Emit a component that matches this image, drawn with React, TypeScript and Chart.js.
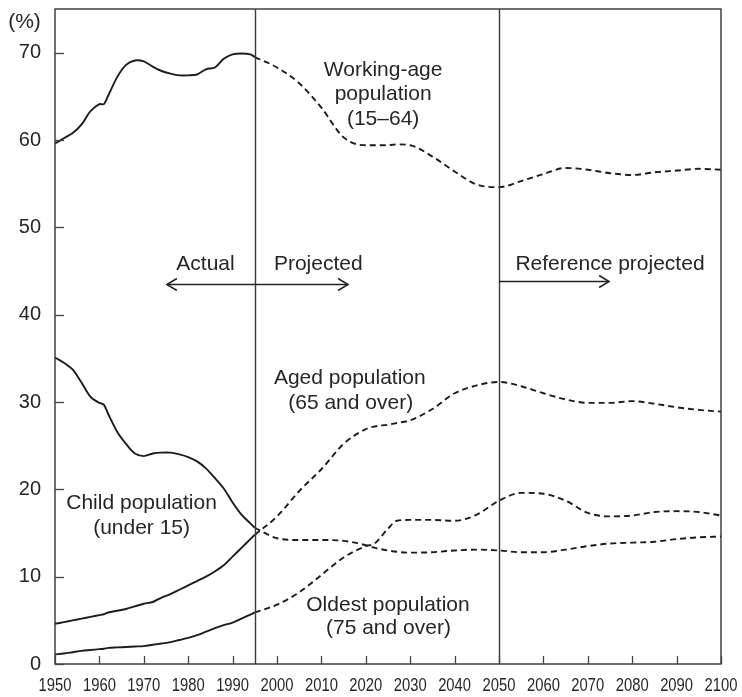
import { useEffect, useRef } from "react";
import { Chart, registerables } from "chart.js";

Chart.register(...registerables);

// ---------- data ----------
const actualYears = [1950, 1952, 1954, 1956, 1958, 1960, 1961, 1962, 1964, 1966, 1968, 1970, 1972, 1974, 1976, 1978, 1980, 1982, 1984, 1986, 1988, 1990, 1992, 1994, 1995];
const workingActual = [59.6, 60.2, 60.8, 61.8, 63.3, 64.1, 64.1, 65.1, 67.2, 68.6, 69.1, 69.0, 68.4, 67.9, 67.6, 67.4, 67.4, 67.5, 68.1, 68.3, 69.3, 69.8, 69.9, 69.8, 69.5];
const childActual = [35.1, 34.5, 33.7, 32.2, 30.6, 29.9, 29.7, 28.6, 26.6, 25.2, 24.1, 23.8, 24.1, 24.2, 24.2, 24.0, 23.7, 23.2, 22.4, 21.3, 20.1, 18.5, 17.1, 16.1, 15.6];
const agedActual = [4.6, 4.8, 5.0, 5.2, 5.4, 5.6, 5.7, 5.9, 6.1, 6.3, 6.6, 6.9, 7.1, 7.6, 8.0, 8.5, 9.0, 9.5, 10.0, 10.6, 11.3, 12.3, 13.3, 14.3, 14.8];
const oldestActual = [1.1, 1.2, 1.35, 1.5, 1.6, 1.7, 1.75, 1.85, 1.9, 1.95, 2.0, 2.05, 2.2, 2.35, 2.5, 2.75, 3.0, 3.3, 3.7, 4.1, 4.45, 4.75, 5.2, 5.65, 5.9];

const projYears = [1995, 2000, 2005, 2010, 2015, 2020, 2022, 2025, 2027, 2030, 2035, 2040, 2045, 2050, 2055, 2060, 2065, 2070, 2075, 2080, 2085, 2090, 2095, 2100];
const workingProj = [69.5, 68.3, 66.5, 63.7, 60.3, 59.4, 59.4, 59.4, 59.5, 59.4, 58.1, 56.4, 54.9, 54.6, 55.3, 56.1, 56.8, 56.6, 56.2, 56.0, 56.3, 56.5, 56.7, 56.6];
const childProj = [15.6, 14.4, 14.2, 14.2, 14.1, 13.6, 13.3, 13.0, 12.85, 12.75, 12.8, 13.0, 13.1, 13.0, 12.8, 12.8, 13.1, 13.5, 13.8, 13.9, 14.0, 14.3, 14.5, 14.6];
const agedProj = [14.8, 16.9, 19.8, 22.3, 25.2, 26.9, 27.2, 27.4, 27.6, 27.9, 29.2, 31.0, 31.9, 32.3, 31.8, 31.0, 30.3, 29.9, 29.9, 30.1, 29.8, 29.4, 29.1, 28.9];
const oldestProj = [5.9, 6.8, 8.2, 10.2, 12.2, 13.5, 13.8, 15.5, 16.4, 16.5, 16.5, 16.4, 17.1, 18.7, 19.6, 19.5, 18.7, 17.3, 16.9, 17.0, 17.4, 17.5, 17.4, 17.0];

const xTicks = [1950, 1960, 1970, 1980, 1990, 2000, 2010, 2020, 2030, 2040, 2050, 2060, 2070, 2080, 2090, 2100];
const yTicks = [0, 10, 20, 30, 40, 50, 60, 70];
const dividerYears = [1995, 2050];

const seriesNames = ["Working-age population (15–64)", "Child population (under 15)", "Aged population (65 and over)", "Oldest population (75 and over)"];

// text annotations [text, year, value]
const annotations: [string, number, number][] = [
  ["Working-age", 2023.9, 67.94],
  ["population", 2023.9, 65.27],
  ["(15–64)", 2023.9, 62.42],
  ["Actual", 1983.9, 45.83],
  ["Projected", 2009.3, 45.83],
  ["Reference projected", 2075.0, 45.83],
  ["Aged population", 2016.4, 32.68],
  ["(65 and over)", 2016.6, 29.82],
  ["Child population", 1969.5, 18.38],
  ["(under 15)", 1969.5, 15.52],
  ["Oldest population", 2025.0, 6.75],
  ["(75 and over)", 2025.1, 4.08],
];

// arrows: [fromYear, toYear, value, headAtStart, headAtEnd]
const arrows: [number, number, number, boolean, boolean][] = [
  [1975.2, 2016.0, 43.46, true, true],
  [2050.0, 2074.8, 43.84, false, true],
];

const FONT = "'Liberation Sans', Arial, Helvetica, sans-serif";
const INK = "#1c1c1c";
const TEXT = "#262626";
const FRAME = "#333333";

const toXY = (xs: number[], ys: number[]) => xs.map((x, i) => ({ x, y: ys[i] }));

const overlayPlugin = {
  id: "overlay",
  afterDatasetsDraw(chart: any) {
    const { ctx, chartArea: a, scales } = chart;
    const xs = scales.x;
    const ys = scales.y;
    ctx.save();

    // divider lines
    ctx.strokeStyle = "#3a3a3a";
    ctx.lineWidth = 1.4;
    dividerYears.forEach((yr) => {
      const px = Math.round(xs.getPixelForValue(yr)) + 0.5;
      ctx.beginPath();
      ctx.moveTo(px, a.top);
      ctx.lineTo(px, a.bottom);
      ctx.stroke();
    });

    // frame
    ctx.strokeStyle = FRAME;
    ctx.lineWidth = 1.4;
    ctx.strokeRect(a.left, a.top, a.right - a.left, a.bottom - a.top);

    // inward ticks
    ctx.lineWidth = 1.3;
    ctx.strokeStyle = "#444";
    xTicks.forEach((v) => {
      const px = Math.round(xs.getPixelForValue(v)) + 0.5;
      ctx.beginPath();
      ctx.moveTo(px, a.bottom);
      ctx.lineTo(px, a.bottom - 8);
      ctx.stroke();
    });
    yTicks.forEach((v) => {
      const py = Math.round(ys.getPixelForValue(v)) + 0.5;
      ctx.beginPath();
      ctx.moveTo(a.left, py);
      ctx.lineTo(a.left + 9, py);
      ctx.stroke();
    });

    // x tick labels (condensed)
    ctx.fillStyle = TEXT;
    ctx.font = `18.5px ${FONT}`;
    ctx.textAlign = "center";
    ctx.textBaseline = "middle";
    xTicks.forEach((v) => {
      const px = xs.getPixelForValue(v);
      ctx.save();
      ctx.translate(px, a.bottom + 22);
      ctx.scale(0.8, 1);
      ctx.fillText(String(v), 0, 0);
      ctx.restore();
    });

    // arrows
    ctx.strokeStyle = "#222";
    ctx.lineWidth = 1.5;
    arrows.forEach(([x0, x1, v, hs, he]) => {
      const p0 = xs.getPixelForValue(x0);
      const p1 = xs.getPixelForValue(x1);
      const py = Math.round(ys.getPixelForValue(v)) + 0.5;
      ctx.beginPath();
      ctx.moveTo(p0, py);
      ctx.lineTo(p1, py);
      ctx.stroke();
      const head = (tip: number, dir: number) => {
        ctx.beginPath();
        ctx.moveTo(tip - dir * 10, py - 6);
        ctx.lineTo(tip, py);
        ctx.lineTo(tip - dir * 10, py + 6);
        ctx.stroke();
      };
      if (hs) head(p0, -1);
      if (he) head(p1, 1);
    });

    // text
    ctx.fillStyle = TEXT;
    ctx.font = `21px ${FONT}`;
    ctx.textAlign = "center";
    ctx.textBaseline = "middle";
    annotations.forEach(([t, x, v]) => {
      ctx.fillText(t, xs.getPixelForValue(x), ys.getPixelForValue(v));
    });

    // unit label
    ctx.fillText("(%)", 24.5, 22);
    ctx.restore();
  },
};

export default function App() {
  const ref = useRef<HTMLCanvasElement | null>(null);

  useEffect(() => {
    if (!ref.current) return;
    const solid = (name: string, ys: number[]) => ({
      label: name,
      data: toXY(actualYears, ys),
      borderColor: INK,
      borderWidth: 1.9,
      pointRadius: 0,
      tension: 0.3,
      fill: false,
    });
    const dashed = (name: string, ys: number[]) => ({
      label: name + " (projected)",
      data: toXY(projYears, ys),
      borderColor: INK,
      borderWidth: 1.9,
      borderDash: [6, 4],
      pointRadius: 0,
      cubicInterpolationMode: "monotone" as const,
      fill: false,
    });
    const zeroPad = (s: any) => {
      s.paddingTop = 0;
      s.paddingBottom = 0;
      s.paddingLeft = 0;
      s.paddingRight = 0;
    };

    const chart = new Chart(ref.current, {
      type: "line",
      data: {
        datasets: [
          solid(seriesNames[0], workingActual),
          dashed(seriesNames[0], workingProj),
          solid(seriesNames[1], childActual),
          dashed(seriesNames[1], childProj),
          solid(seriesNames[2], agedActual),
          dashed(seriesNames[2], agedProj),
          solid(seriesNames[3], oldestActual),
          dashed(seriesNames[3], oldestProj),
        ],
      },
      options: {
        animation: false,
        responsive: false,
        devicePixelRatio: 1,
        layout: { padding: { left: 0, top: 9, right: 21, bottom: 0 } },
        plugins: { legend: { display: false }, tooltip: { enabled: false } },
        scales: {
          x: {
            type: "linear",
            min: 1950,
            max: 2100,
            grid: { display: false, drawTicks: false },
            border: { display: false },
            afterBuildTicks: (s: any) => {
              s.ticks = xTicks.map((v) => ({ value: v }));
            },
            afterFit: (s: any) => {
              s.height = 33;
              zeroPad(s);
            },
            ticks: { display: false },
          },
          y: {
            min: 0,
            max: 75,
            grid: { display: false, drawTicks: false },
            border: { display: false },
            afterBuildTicks: (s: any) => {
              s.ticks = yTicks.map((v) => ({ value: v }));
            },
            afterFit: (s: any) => {
              s.width = 55;
              zeroPad(s);
            },
            ticks: {
              padding: 14,
              color: TEXT,
              font: { family: FONT, size: 20 },
              callback: (v: any) => String(v),
            },
          },
        },
      },
      plugins: [overlayPlugin],
    });
    return () => chart.destroy();
  }, []);

  return (
    <div style={{ position: "absolute", left: 0, top: 0, width: 742, height: 697, background: "#fff" }}>
      <canvas ref={ref} width={742} height={697} style={{ display: "block" }} />
    </div>
  );
}
